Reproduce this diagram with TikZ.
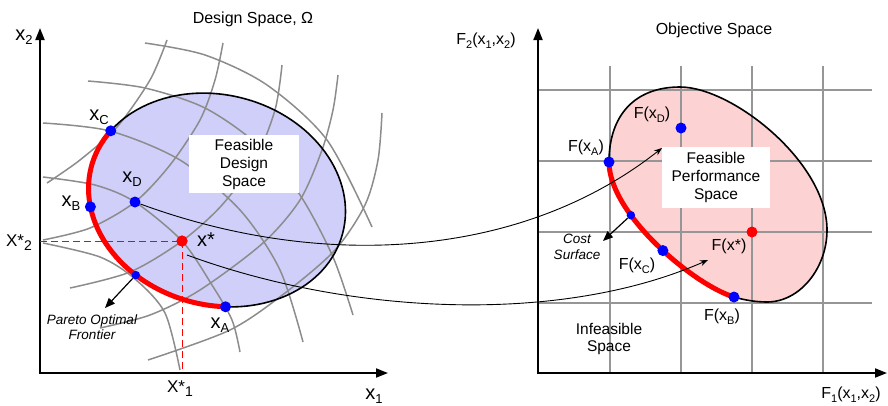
\documentclass[tikz,border=0pt]{standalone}
\usepackage{fontspec}
\setmainfont{Liberation Sans}
\usetikzlibrary{arrows.meta}
\definecolor{bluefill}{RGB}{207,207,250}
\definecolor{pinkfill}{RGB}{252,210,210}
\definecolor{gridgray}{RGB}{150,150,150}
\definecolor{curvegray}{RGB}{140,140,140}
\newcommand\lsub[2][12]{\raisebox{-4pt}{\fontsize{#1}{#1}\selectfont #2}}
\begin{document}
\begin{tikzpicture}[x=1pt,y=-1pt,
  axis/.style={line width=1.8pt, {Triangle[length=12pt,width=9pt]}-{Triangle[length=12pt,width=9pt]}},
  gcurve/.style={curvegray, line width=1.5pt},
  gridl/.style={gridgray, line width=1.8pt},
  outline/.style={black, line width=1.6pt},
  pareto/.style={red, line width=5pt},
  dashline/.style={red, line width=1pt, dash pattern=on 7pt off 4pt},
  conn/.style={black, line width=0.9pt, -{Stealth[length=8pt,width=6pt]}},
  ptr/.style={black, line width=1.2pt, -{Triangle[length=10pt,width=8pt]}},
  bdot/.style={circle, fill=blue, inner sep=0pt, minimum size=11pt},
  sdot/.style={circle, fill=blue, inner sep=0pt, minimum size=8.5pt},
  rdot/.style={circle, fill=red, inner sep=0pt, minimum size=11pt},
  ptlbl/.style={inner sep=0pt, font=\fontsize{20}{22}\selectfont},
  lbl/.style={inner sep=0pt, font=\fontsize{16}{19}\selectfont},
  note/.style={inner sep=0pt, align=center, font=\fontsize{13.5}{15.5}\selectfont\itshape},
  boxtxt/.style={fill=white, inner sep=0pt, align=center, font=\fontsize{15.5}{18}\selectfont}]
\useasboundingbox (0,0) rectangle (888,405);

% ---------------- LEFT PANEL ----------------
\begin{scope}[shift={(217,200)}, rotate=-15]
  \fill[bluefill] (0,0) ellipse [x radius=130, y radius=105];
  \coordinate (pC) at (202:130 and 105);
  \coordinate (pB) at (158:130 and 105);
  \coordinate (pP) at (117:130 and 105);
  \coordinate (pA) at (74:130 and 105);
\end{scope}

% gray curvilinear grid
\draw[gcurve] plot[smooth] coordinates {(145,43) (205,55) (267,85) (327,140) (372,227)};
\draw[gcurve] plot[smooth] coordinates {(88,81) (145,88) (205,108) (258,145) (300,195) (333,257) (353,315)};
\draw[gcurve] plot[smooth] coordinates {(43,123) (110,131) (180,160) (240,210) (280,270) (303,342)};
\draw[gcurve] plot[smooth] coordinates {(43,177) (95,185) (135,202) (182,241) (212,285) (232,320) (240,352)};
\draw[gcurve] plot[smooth] coordinates {(43,243) (100,257) (135,279) (165,313) (180,370)};
\draw[gcurve] plot[smooth] coordinates {(167,40) (150,80) (117,127) (80,160) (47,183)};
\draw[gcurve] plot[smooth] coordinates {(223,43) (215,80) (200,120) (170,165) (135,202) (90,228) (43,240)};
\draw[gcurve] plot[smooth] coordinates {(282,65) (275,110) (255,160) (222,205) (182,241) (130,272) (70,288)};
\draw[gcurve] plot[smooth] coordinates {(338,75) (333,110) (322,150) (300,200) (263,243) (200,290) (150,315) (100,328)};
\draw[gcurve] plot[smooth] coordinates {(382,113) (378,160) (365,205) (335,250) (285,293) (230,330) (148,360)};

\node[boxtxt, minimum width=110pt, minimum height=58pt] (fds) at (244,164) {Feasible\\Design\\Space};

\begin{scope}[shift={(217,200)}, rotate=-15]
  \draw[outline] (0,0) ellipse [x radius=130, y radius=105];
  \draw[pareto] (202:130 and 105) arc [start angle=202, end angle=74, x radius=130, y radius=105];
\end{scope}

% axes
\coordinate (oL) at (40,373);
\coordinate (yL) at (40,28);
\coordinate (xL) at (388,373);
\draw[axis] (yL) -- (oL) -- (xL);

% dots
\node[bdot] (dC) at (pC) {};
\node[bdot] (dB) at (pB) {};
\node[sdot] (dP) at (pP) {};
\node[bdot] (dA) at (pA) {};
\node[bdot] (dD) at (135,202) {};
\node[rdot] (dS) at (182,241) {};

% dashed projections
\coordinate (hx) at (40,241);
\coordinate (vx) at (182,373);
\draw[dashline] (hx) -- (dS.center);
\draw[dashline] (dS.center) -- (vx);
\node[rdot] at (dS) {};

% labels left
\node[lbl] (t1) at (253,19.5) {Design Space, Ω};
\node[ptlbl] (lx2) at (24,37) {x\lsub[13]{2}};
\node[ptlbl] (lx1) at (374,396) {x\lsub[13]{1}};
\node[ptlbl] (lC) at (99,117) {x\lsub[13]{C}};
\node[ptlbl] (lB) at (71,203) {x\lsub[13]{B}};
\node[ptlbl] (lD) at (132,179) {x\lsub[13]{D}};
\node[ptlbl] (lS) at (206,240) {x*};
\node[ptlbl] (lA) at (220,325) {x\lsub[13]{A}};
\node[lbl, font=\fontsize{17}{19}\selectfont] (lX2) at (19,243) {X*\lsub[14]{2}};
\node[lbl, font=\fontsize{17}{19}\selectfont] (lX1) at (180,389) {X*\lsub[14]{1}};
\node[note] (pof) at (92,327) {Pareto Optimal\\Frontier};
\coordinate (pe) at (105,308);
\draw[ptr] (dP) -- (pe);

% ---------------- RIGHT PANEL ----------------
\coordinate (qA) at (609,162);
\coordinate (qT) at (680,87);
\coordinate (qR) at (827,230);
\coordinate (qL) at (767,302);
\coordinate (qB) at (734,297);
\path (qB) .. controls (694,285) and (609,214) .. (qA)
   coordinate[pos=0.68] (qS) coordinate[pos=0.46] (qC);

\fill[pinkfill] (qA) .. controls (609,115) and (635,87) .. (qT)
   .. controls (732,87) and (827,162) .. (qR)
   .. controls (827,268) and (800,302) .. (qL)
   .. controls (756,302) and (744,300) .. (qB)
   .. controls (694,285) and (609,214) .. (qA) -- cycle;

% grid
\foreach \gx in {610,681,752,823} {
  \draw[gridl] (\gx,66) -- (\gx,373);
}
\foreach \gy in {90,161,232,303} {
  \draw[gridl] (538,\gy) -- (872,\gy);
}

\node[boxtxt, minimum width=108pt, minimum height=61pt] (fps) at (716,177.5) {Feasible\\Performance\\Space};

\draw[outline] (qA) .. controls (609,115) and (635,87) .. (qT)
   .. controls (732,87) and (827,162) .. (qR)
   .. controls (827,268) and (800,302) .. (qL)
   .. controls (756,302) and (744,300) .. (qB);
\draw[pareto] (qB) .. controls (694,285) and (609,214) .. (qA);

% axes
\coordinate (oR) at (538,373);
\coordinate (yR) at (538,28);
\coordinate (xR) at (887,373);
\draw[axis] (yR) -- (oR) -- (xR);

% dots
\node[bdot] (fA) at (qA) {};
\node[sdot] (fS) at (qS) {};
\node[bdot] (fC) at (qC) {};
\node[bdot] (fB) at (qB) {};
\node[bdot] (fD) at (681,128) {};
\node[rdot] (fX) at (752,232) {};

% labels right
\node[lbl] (t2) at (714,30) {Objective Space};
\node[lbl] (lF2) at (486,41) {F\lsub[11]{2}(x\lsub[11]{1},x\lsub[11]{2})};
\node[lbl] (lF1) at (851,395) {F\lsub[11]{1}(x\lsub[11]{1},x\lsub[11]{2})};
\node[lbl] (lFD) at (652,115) {F(x\lsub[11]{D})};
\node[lbl] (lFA) at (586,148) {F(x\lsub[11]{A})};
\node[lbl] (lFC) at (637,266) {F(x\lsub[11]{C})};
\node[lbl] (lFX) at (729,246) {F(x*)};
\node[lbl] (lFB) at (722,317) {F(x\lsub[11]{B})};
\node[note] (cs) at (577,247) {Cost\\Surface};
\node[lbl, align=center, font=\fontsize{15.5}{17.5}\selectfont] (inf) at (609,339) {Infeasible\\Space};
\coordinate (ce) at (603,241);
\draw[ptr] (fS) -- (ce);

% ---------------- mapping connectors ----------------
\coordinate (e1) at (662,148);
\coordinate (s2) at (187,255);
\coordinate (e2) at (708,260);
\draw[conn] (dD) .. controls (320,270) and (520,260) .. (e1);
\draw[conn] (s2) .. controls (350,315) and (560,325) .. (e2);
\end{tikzpicture}
\end{document}
